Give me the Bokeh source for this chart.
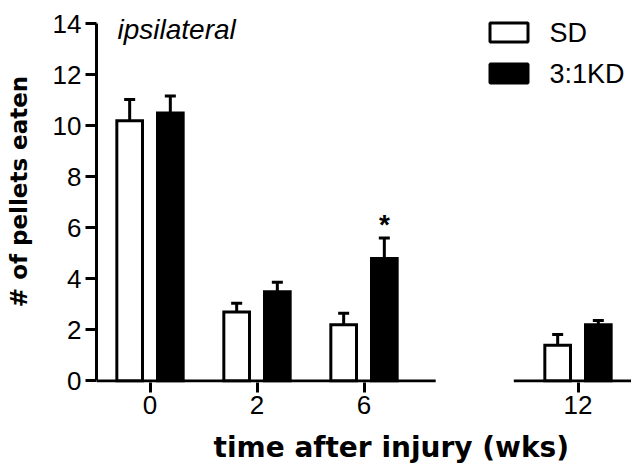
from bokeh.plotting import figure
from bokeh.models import (ColumnDataSource, FixedTicker, Whisker, TeeHead, Label,
                          BoxAnnotation, Range1d, Title)
from bokeh.embed import file_html
from bokeh.resources import INLINE
from bokeh.core.properties import value

# ---- data ----
weeks = ["0", "2", "6", "12"]
series = ["SD", "3:1KD"]
sd_mean = [10.2, 2.7, 2.2, 1.4]
sd_sem = [0.83, 0.35, 0.45, 0.42]
kd_mean = [10.5, 3.5, 4.8, 2.2]
kd_sem = [0.67, 0.37, 0.80, 0.17]
significant = ["", "", "*", ""]          # marks over the 3:1KD bars
y_ticks = [0, 2, 4, 6, 8, 10, 12, 14]
break_after = "6"                        # x axis is broken after this category
x_title = "time after injury (wks)"
y_title = "# of pellets eaten"
panel_title = "ipsilateral"

# ---- layout helpers ----
slots = []
s = 0
for w in weeks:
    s += 1
    slots.append(s)
    if w == break_after:
        s += 1
offset = 0.19
bar_w = 0.24
X_END = 5.5
axis_pieces_x0 = [0.5, 4.4]
axis_pieces_x1 = [3.67, X_END]

FONT = "Liberation Sans"
BOLD_FONT = "DejaVu Sans"

sd_src = ColumnDataSource(dict(
    x=[v - offset for v in slots], top=sd_mean,
    upper=[m + e for m, e in zip(sd_mean, sd_sem)]))
kd_src = ColumnDataSource(dict(
    x=[v + offset for v in slots], top=kd_mean,
    upper=[m + e for m, e in zip(kd_mean, kd_sem)]))

p = figure(x_range=Range1d(0.5, X_END), y_range=Range1d(-0.06, 14.91),
           width=631, height=467,
           min_border_left=96, min_border_right=0, min_border_top=0, min_border_bottom=85,
           output_backend="svg", toolbar_location=None)
p.outline_line_color = None
p.xgrid.grid_line_color = None
p.ygrid.grid_line_color = None
p.background_fill_color = "white"
p.border_fill_color = "white"

p.vbar(x="x", top="top", bottom=0, width=bar_w, source=sd_src,
       fill_color="white", line_color="black", line_width=3, line_join="miter")
p.vbar(x="x", top="top", bottom=0, width=bar_w, source=kd_src,
       fill_color="black", line_color="black", line_width=3, line_join="miter")

for src in (sd_src, kd_src):
    p.add_layout(Whisker(base="x", upper="upper", lower="top", source=src,
                         dimension="height", line_width=3, line_color="black",
                         upper_head=TeeHead(size=11, line_width=3, line_color="black"),
                         lower_head=None))

# broken x-axis line
p.segment(x0=axis_pieces_x0, x1=axis_pieces_x1, y0=0, y1=0,
          line_width=3, line_color="black")

# significance star
star_x = [x for x, t in zip(kd_src.data["x"], significant) if t]
star_y = [u for u, t in zip(kd_src.data["upper"], significant) if t]
star_t = [t for t in significant if t]
p.text(x=star_x, y=star_y, text=star_t, y_offset=-13.6, text_align="center",
       text_baseline="alphabetic", text_font=value(FONT), text_font_style="bold",
       text_font_size="28px", text_color="black")

# y axis
ya = p.yaxis[0]
ya.ticker = FixedTicker(ticks=y_ticks)
ya.bounds = (0, 14)
ya.axis_line_width = 3
ya.major_tick_line_width = 3
ya.major_tick_out = 11
ya.major_tick_in = 0
ya.minor_tick_line_color = None
ya.major_label_text_font = FONT
ya.major_label_text_font_size = "26px"
ya.major_label_text_color = "black"
ya.major_label_standoff = 4
ya.axis_label = y_title
ya.axis_label_text_font = BOLD_FONT
ya.axis_label_text_font_style = "bold"
ya.axis_label_text_font_size = "23px"
ya.axis_label_text_color = "black"
ya.axis_label_standoff = 18

# x axis (line drawn above as broken segments)
xa = p.xaxis[0]
xa.ticker = FixedTicker(ticks=slots)
xa.major_label_overrides = {v: w for v, w in zip(slots, weeks)}
xa.axis_line_color = None
xa.major_tick_line_width = 3
xa.major_tick_out = 10
xa.major_tick_in = 0
xa.minor_tick_line_color = None
xa.major_label_text_font = FONT
xa.major_label_text_font_size = "26px"
xa.major_label_text_color = "black"
xa.major_label_standoff = 3

# x axis title, placed off-centre as in the reference
title_kw = dict(text=x_title, align="left", offset=117, vertical_align="bottom",
                text_font=BOLD_FONT, text_font_style="bold",
                text_font_size="28px", text_color="black")
if "padding" in Title.properties():
    title_kw.update(standoff=0, padding=dict(left=0, right=0, top=12, bottom=0))
else:
    title_kw.update(standoff=16)
p.add_layout(Title(**title_kw), "below")

# panel title
p.add_layout(Label(x=21, y=352.7, x_units="screen", y_units="screen", text=panel_title,
                   text_font=FONT, text_font_style="italic", text_font_size="28px",
                   text_baseline="alphabetic", text_color="black"))

# legend
p.add_layout(BoxAnnotation(left=393.5, right=431.5, top=359.5, bottom=340.5,
                           left_units="screen", right_units="screen",
                           top_units="screen", bottom_units="screen",
                           fill_color="white", fill_alpha=1, line_color="black",
                           line_alpha=1, line_width=3))
p.add_layout(BoxAnnotation(left=393.5, right=431.5, top=318.5, bottom=299.5,
                           left_units="screen", right_units="screen",
                           top_units="screen", bottom_units="screen",
                           fill_color="black", fill_alpha=1, line_color="black",
                           line_alpha=1, line_width=3))
for name, yy in zip(series, [349.5, 308.5]):
    p.add_layout(Label(x=453, y=yy, x_units="screen", y_units="screen", text=name,
                       text_font=FONT, text_font_size="27px", text_baseline="middle",
                       text_color="black"))

open("out.html", "w").write(file_html(p, INLINE))
